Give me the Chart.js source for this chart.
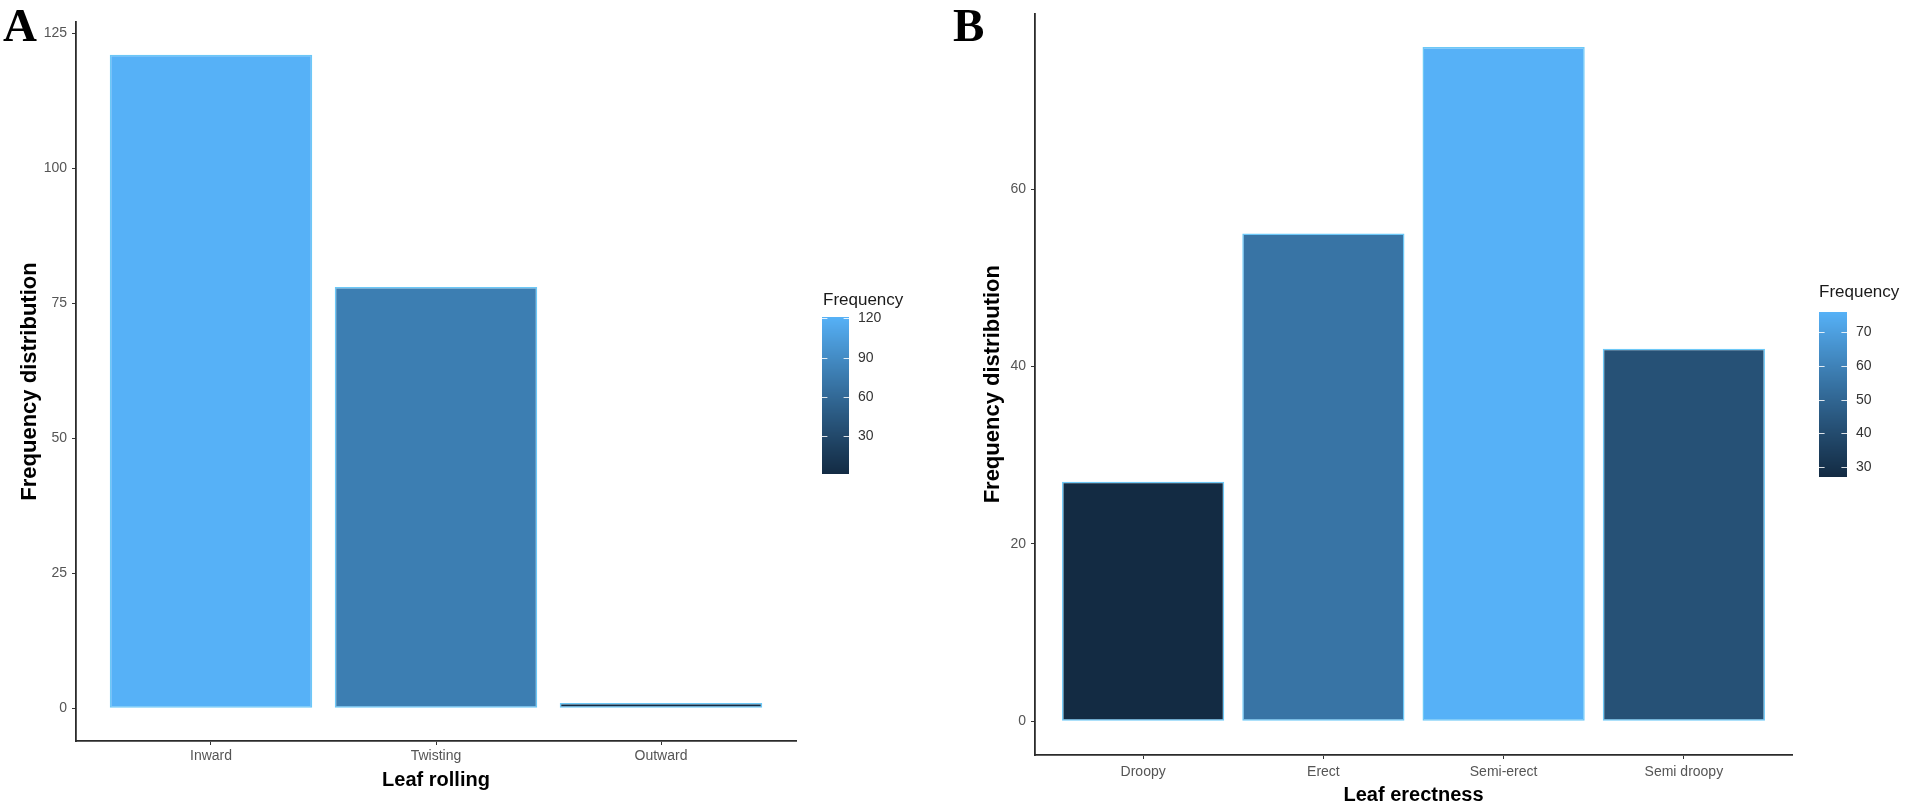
<!DOCTYPE html>
<html>
<head>
<meta charset="utf-8">
<script src="https://cdn.jsdelivr.net/npm/chart.js@4.4.1/dist/chart.umd.min.js"></script>
<style>
  html, body { margin: 0; padding: 0; background: #fff; }
  body { width: 1907px; height: 806px; position: relative; overflow: hidden; }
  canvas { position: absolute; top: 0; }
  #chartA { left: 0; }
  #chartB { left: 950px; }
  .tag { position: absolute; top: 2px; font-family: 'Liberation Serif', 'Times New Roman', serif; font-weight: bold; font-size: 47px; line-height: 1; color: #000; }
</style>
</head>
<body>
<canvas id="chartA" width="950" height="806"></canvas>
<canvas id="chartB" width="957" height="806"></canvas>
<div class="tag" style="left:3px;">A</div>
<div class="tag" style="left:953px;">B</div>
<script>
// Panel A - leaf rolling
const rollingCategories = ['Inward', 'Twisting', 'Outward'];
const rollingCounts = [121, 78, 1];
const rollingYTicks = [0, 25, 50, 75, 100, 125];
const rollingLegendTicks = [30, 60, 90, 120];

// Panel B - leaf erectness
const erectCategories = ['Droopy', 'Erect', 'Semi-erect', 'Semi droopy'];
const erectCounts = [27, 55, 76, 42];
const erectYTicks = [0, 20, 40, 60];
const erectLegendTicks = [30, 40, 50, 60, 70];

// ggplot default continuous fill: #132B43 -> #56B1F7, mixed in Lab
const lowColor = '#132B43';
const highColor = '#56B1F7';

function hexToLab(hex) {
    const rgb = [1, 3, 5].map(i => parseInt(hex.substr(i, 2), 16) / 255)
        .map(c => c <= 0.04045 ? c / 12.92 : Math.pow((c + 0.055) / 1.055, 2.4));
    const [r, g, b] = rgb;
    const X = (0.4124 * r + 0.3576 * g + 0.1805 * b) / 0.95047;
    const Y = 0.2126 * r + 0.7152 * g + 0.0722 * b;
    const Z = (0.0193 * r + 0.1192 * g + 0.9505 * b) / 1.08883;
    const f = t => t > 0.008856 ? Math.cbrt(t) : 7.787 * t + 16 / 116;
    return [116 * f(Y) - 16, 500 * (f(X) - f(Y)), 200 * (f(Y) - f(Z))];
}

function labToHex(lab) {
    const fy = (lab[0] + 16) / 116;
    const fx = fy + lab[1] / 500;
    const fz = fy - lab[2] / 200;
    const inv = t => t > 0.206893 ? t * t * t : (t - 16 / 116) / 7.787;
    const X = inv(fx) * 0.95047, Y = inv(fy), Z = inv(fz) * 1.08883;
    const lin = [
        3.2406 * X - 1.5372 * Y - 0.4986 * Z,
        -0.9689 * X + 1.8758 * Y + 0.0415 * Z,
        0.0557 * X - 0.2040 * Y + 1.0570 * Z
    ];
    return '#' + lin.map(c => {
        c = c <= 0.0031308 ? 12.92 * c : 1.055 * Math.pow(c, 1 / 2.4) - 0.055;
        c = Math.round(Math.min(1, Math.max(0, c)) * 255);
        return c.toString(16).padStart(2, '0');
    }).join('');
}

const lowLab = hexToLab(lowColor);
const highLab = hexToLab(highColor);
function gradientColor(t) {
    return labToHex(lowLab.map((v, i) => v + (highLab[i] - v) * t));
}

Chart.defaults.font.family = "'Liberation Sans', Arial, sans-serif";

// colour bar legend like ggplot's guide_colourbar
const colorbarPlugin = {
    id: 'colorbar',
    afterDraw(chart, args, opts) {
        const ctx = chart.ctx;
        const {x, top, width, height, min, max, ticks} = opts;
        ctx.save();
        for (let i = 0; i < height; i++) {
            const t = 1 - (i + 0.5) / height;
            ctx.fillStyle = gradientColor(t);
            ctx.fillRect(x, top + i, width, 1);
        }
        ctx.strokeStyle = 'rgba(255,255,255,0.85)';
        ctx.lineWidth = 1;
        ctx.fillStyle = '#333';
        ctx.font = "14px 'Liberation Sans', Arial, sans-serif";
        ctx.textBaseline = 'middle';
        ticks.forEach(v => {
            const y = Math.round(top + (max - v) / (max - min) * height) + 0.5;
            ctx.beginPath();
            ctx.moveTo(x, y);
            ctx.lineTo(x + width / 5, y);
            ctx.moveTo(x + width, y);
            ctx.lineTo(x + width - width / 5, y);
            ctx.stroke();
            ctx.fillText(String(v), x + width + 9, y);
        });
        ctx.fillStyle = '#1a1a1a';
        ctx.font = "17px 'Liberation Sans', Arial, sans-serif";
        ctx.textBaseline = 'alphabetic';
        ctx.fillText('Frequency', opts.titleX, opts.titleY);
        ctx.restore();
    }
};

function buildChart(canvasId, cats, counts, yTicks, legendTicks, xTitle, box) {
    const lo = Math.min(...counts);
    const hi = Math.max(...counts);
    const expand = 0.05 * hi;
    return new Chart(document.getElementById(canvasId), {
        type: 'bar',
        data: {
            datasets: [{
                data: counts.map((v, i) => ({x: i, y: v})),
                backgroundColor: counts.map(v => gradientColor((v - lo) / (hi - lo))),
                borderColor: '#6cc8f7',
                borderWidth: 1.5,
                borderSkipped: false,
                barPercentage: 0.9,
                categoryPercentage: 1.0
            }]
        },
        plugins: [colorbarPlugin],
        options: {
            responsive: false,
            animation: false,
            layout: {
                padding: {left: 0, right: box.padRight, top: box.padTop, bottom: 0}
            },
            plugins: {
                legend: {display: false},
                tooltip: {enabled: false},
                colorbar: {
                    x: box.barX, top: box.barTop, width: box.barW, height: box.barH,
                    min: lo, max: hi, ticks: legendTicks,
                    titleX: box.titleX, titleY: box.titleY
                }
            },
            scales: {
                x: {
                    type: 'linear',
                    offset: false,
                    min: -0.6,
                    max: cats.length - 1 + 0.6,
                    afterBuildTicks: s => { s.ticks = cats.map((c, i) => ({value: i})); },
                    afterFit: s => { s.height = box.xHeight; },
                    ticks: {
                        callback: v => cats[v],
                        color: '#555',
                        font: {size: 14},
                        padding: box.xTickPad,
                        maxRotation: 0
                    },
                    grid: {display: true, offset: false, drawOnChartArea: false, drawTicks: true, tickLength: 4, color: '#333'},
                    border: {display: true, color: '#2b2b2b', width: 1.8},
                    title: {
                        display: true,
                        text: xTitle,
                        color: '#000',
                        font: {size: 20, weight: 'bold', lineHeight: box.xTitleLH},
                        padding: {top: 0, bottom: box.xTitlePad}
                    }
                },
                y: {
                    min: -expand,
                    max: hi + expand,
                    afterBuildTicks: s => { s.ticks = yTicks.map(v => ({value: v})); },
                    afterFit: s => { s.width = box.yWidth; },
                    ticks: {color: '#555', font: {size: 14}, padding: 5},
                    grid: {display: true, drawOnChartArea: false, drawTicks: true, tickLength: 4, color: '#333'},
                    border: {display: true, color: '#2b2b2b', width: 1.8},
                    title: {
                        display: true,
                        text: 'Frequency distribution',
                        color: '#000',
                        font: {size: 22, weight: 'bold', lineHeight: 1.2},
                        padding: {top: box.yTitlePad, bottom: 0}
                    }
                }
            }
        }
    });
}

const chartA = buildChart('chartA', rollingCategories, rollingCounts, rollingYTicks, rollingLegendTicks, 'Leaf rolling', {
    padRight: 154, padTop: 22, yWidth: 76, xHeight: 65,
    xTickPad: 3, xTitlePad: 14, xTitleLH: 1.2, yTitlePad: 17,
    barX: 822, barTop: 317, barW: 27, barH: 157, titleX: 823, titleY: 305
});

const chartB = buildChart('chartB', erectCategories, erectCounts, erectYTicks, erectLegendTicks, 'Leaf erectness', {
    padRight: 115, padTop: 6, yWidth: 85, xHeight: 51,
    xTickPad: 5, xTitlePad: 1, xTitleLH: 1.0, yTitlePad: 30,
    barX: 869, barTop: 312, barW: 28, barH: 165, titleX: 869, titleY: 297
});
</script>
</body>
</html>
